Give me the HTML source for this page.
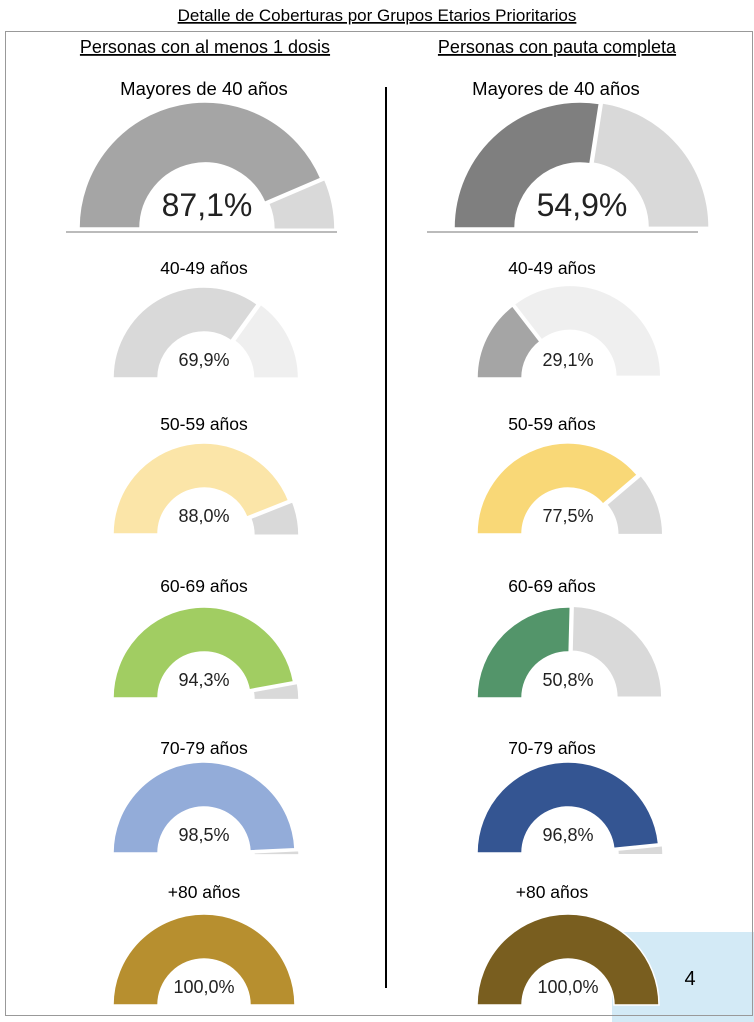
<!DOCTYPE html>
<html><head><meta charset="utf-8"><style>
body{margin:0;background:#fff;}
svg{display:block;font-family:"Liberation Sans",sans-serif;}
</style></head><body>
<svg id="c" width="754" height="1022" viewBox="0 0 754 1022">
<rect x="612" y="932" width="142" height="90" fill="#d3eaf6"/>
<text x="690" y="985" font-size="20" text-anchor="middle" fill="#000">4</text>
<rect x="5.5" y="31.5" width="747" height="984" fill="none" stroke="#999"/>
<text x="377" y="21" font-size="17" text-anchor="middle" text-decoration="underline">Detalle de Coberturas por Grupos Etarios Prioritarios</text>
<text x="205" y="53" font-size="18" text-anchor="middle" text-decoration="underline">Personas con al menos 1 dosis</text>
<text x="557" y="53" font-size="18" text-anchor="middle" text-decoration="underline">Personas con pauta completa</text>
<line x1="386" y1="87" x2="386" y2="988" stroke="#000" stroke-width="2"/>
<line x1="66" y1="232" x2="337" y2="232" stroke="#bbb" stroke-width="2"/>
<line x1="427" y1="232" x2="698" y2="232" stroke="#bbb" stroke-width="2"/>
<g id="g"></g>
</svg>
<script>
const groups=["Mayores de 40 años","40-49 años","50-59 años","60-69 años","70-79 años","+80 años"];
const dose1=[87.1,69.9,88.0,94.3,98.5,100.0];
const complete=[54.9,29.1,77.5,50.8,96.8,100.0];
const c1=["#a5a5a5","#d9d9d9","#fbe5a8","#a1cd62","#93acd9","#b78f2f"];
const r1=["#d9d9d9","#efefef","#d9d9d9","#d9d9d9","#d9d9d9","#d9d9d9"];
const c2=["#7f7f7f","#a5a5a5","#f9d877","#53956a","#345592","#795e1f"];
const r2=["#d9d9d9","#efefef","#d9d9d9","#d9d9d9","#d9d9d9","#d9d9d9"];
const baseY=[228,378,534,698,853,1005];
const titleY=[95,274,430,592,754,898];
const NS="http://www.w3.org/2000/svg";
const G=document.getElementById('g');
function pt(cx,cy,r,a){return [cx+r*Math.cos(a),cy-r*Math.sin(a)];}
function arc(cx,cy,R,r,a0,a1){
 const p1=pt(cx,cy,R,a0),p2=pt(cx,cy,R,a1),p3=pt(cx,cy,r,a1),p4=pt(cx,cy,r,a0);
 const lg=(a0-a1)>Math.PI?1:0;
 return `M${p1} A${R},${R} 0 ${lg} 1 ${p2} L${p3} A${r},${r} 0 ${lg} 0 ${p4}Z`;
}
function gauge(i,cx,val,col,rem,side){
 const big=i===0, R=big?126:91, r=big?65:46, cy=baseY[i];
 const f=val/100, am=Math.PI*(1-f);
 const p=document.createElementNS(NS,'path');
 p.setAttribute('d',arc(cx,cy,R,r,Math.PI,am));
 p.setAttribute('fill',col);p.setAttribute('stroke','#fff');p.setAttribute('stroke-width','1.5');
 
 
 G.appendChild(p);
 if(f<1){
  const mid=am/2, dx=4*Math.cos(mid), dy=-4*Math.sin(mid)+2;
  const q=document.createElementNS(NS,'path');
  q.setAttribute('d',arc(cx+dx,cy+dy,R,r,am,0));
  q.setAttribute('fill',rem);q.setAttribute('stroke','#fff');q.setAttribute('stroke-width','1.5');
  
  
  G.appendChild(q);
 }
 const t=document.createElementNS(NS,'text');
 t.setAttribute('x',cx+(big?2:0));t.setAttribute('y',cy-(big?12:12));
 t.setAttribute('text-anchor','middle');t.setAttribute('font-size',big?32:18);t.setAttribute('fill','#222');
 t.textContent=val.toFixed(1).replace('.',',')+'%';
 
 
 G.appendChild(t);
 const l=document.createElementNS(NS,'text');
 l.setAttribute('x',side==='left'?204:(big?556:552));l.setAttribute('y',titleY[i]);
 l.setAttribute('text-anchor','middle');l.setAttribute('font-size',big?18.5:17.5);
 l.textContent=groups[i];
 
 
 G.appendChild(l);
}
for(let i=0;i<groups.length;i++){
 gauge(i,i===0?205:204,dose1[i],c1[i],r1[i],'left');
 gauge(i,i===0?580:568,complete[i],c2[i],r2[i],'right');
}
</script>
</body></html>
